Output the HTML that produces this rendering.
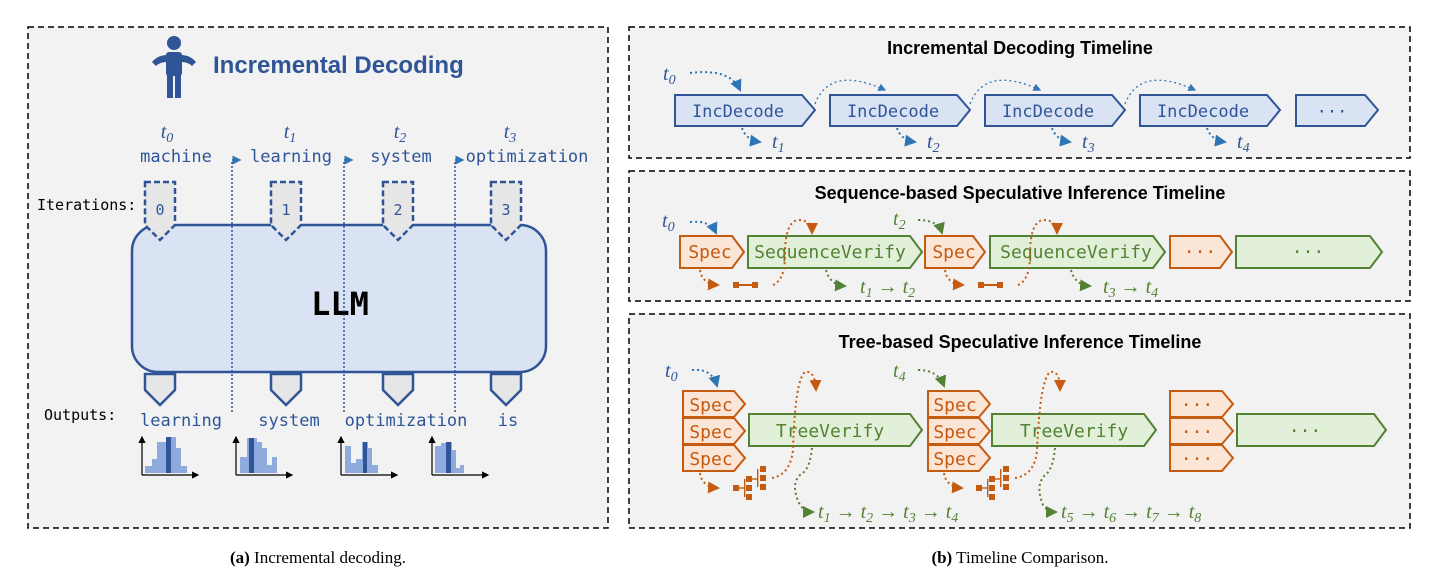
<!DOCTYPE html>
<html><head><meta charset="utf-8"><style>
body{margin:0;background:#fff;width:1440px;height:581px;overflow:hidden}
text{font-family:"DejaVu Sans Mono","Liberation Mono",monospace}
text.t{font-family:"Liberation Sans",sans-serif;font-weight:bold;font-size:18px;fill:#000}
text.it{font-family:"Liberation Serif",serif;font-style:italic;font-size:20px}
text.cap{font-family:"Liberation Serif",serif;font-size:17px;fill:#000}
</style></head><body>
<svg width="1440" height="581" viewBox="0 0 1440 581" xmlns="http://www.w3.org/2000/svg">
<defs>
<marker id="ab" markerWidth="6" markerHeight="6" refX="5" refY="3" orient="auto"><path d="M0,0L6,3L0,6z" fill="#2e75b6"/></marker>
<marker id="ao" markerWidth="6" markerHeight="6" refX="5" refY="3" orient="auto"><path d="M0,0L6,3L0,6z" fill="#c55a11"/></marker>
<marker id="ag" markerWidth="6" markerHeight="6" refX="5" refY="3" orient="auto"><path d="M0,0L6,3L0,6z" fill="#548235"/></marker>
<marker id="ak" markerWidth="6" markerHeight="6" refX="5" refY="3" orient="auto"><path d="M0,0L6,3L0,6z" fill="#000"/></marker>
<g id="tree" fill="#c55a11">
<rect x="0" y="-3" width="6" height="6"/><rect x="6" y="-0.7" width="6" height="1.4"/><rect x="11" y="-9" width="1.4" height="18"/>
<rect x="13" y="-12" width="6" height="6"/><rect x="13" y="-3" width="6" height="6"/><rect x="13" y="6" width="6" height="6"/>
<rect x="19" y="-9.7" width="6" height="1.4"/><rect x="24" y="-19" width="1.4" height="18"/>
<rect x="27" y="-22" width="6" height="6"/><rect x="27" y="-13" width="6" height="6"/><rect x="27" y="-4" width="6" height="6"/>
</g>
</defs>
<g fill="#f2f2f2" stroke="#000" stroke-width="1.5" stroke-dasharray="6,4">
<rect x="28" y="27" width="580" height="501"/>
<rect x="629" y="27" width="781" height="131"/>
<rect x="629" y="171" width="781" height="130"/>
<rect x="629" y="314" width="781" height="214"/>
</g>
<text x="318" y="563" class="cap" text-anchor="middle"><tspan font-weight="bold">(a)</tspan> Incremental decoding.</text>
<text x="1020" y="563" class="cap" text-anchor="middle"><tspan font-weight="bold">(b)</tspan> Timeline Comparison.</text>
<!-- left panel -->
<g fill="#2f5597"><circle cx="174" cy="43" r="7"/><rect x="166" y="52" width="16" height="24" rx="3"/><rect x="167" y="72" width="6" height="26"/><rect x="175" y="72" width="6" height="26"/><path d="M152,62 Q158,55 167,55 L167,62 Q160,62 156,66z M196,62 Q190,55 181,55 L181,62 Q188,62 192,66z"/></g>
<text x="213" y="73" class="t" style="fill:#2f5597;font-size:24px">Incremental Decoding</text>
<g fill="#2f5597" text-anchor="middle">
<text x="167" y="138" class="it">t<tspan font-size="14" dy="4">0</tspan></text>
<text x="290" y="138" class="it">t<tspan font-size="14" dy="4">1</tspan></text>
<text x="400" y="138" class="it">t<tspan font-size="14" dy="4">2</tspan></text>
<text x="510" y="138" class="it">t<tspan font-size="14" dy="4">3</tspan></text>
<g font-size="17"><text x="176" y="162">machine</text><text x="291" y="162">learning</text><text x="401" y="162">system</text><text x="527" y="162">optimization</text>
<text x="181" y="426">learning</text><text x="289" y="426">system</text><text x="406" y="426">optimization</text><text x="508" y="426">is</text></g>
</g>
<text x="37" y="210" font-size="15" fill="#000">Iterations:</text>
<text x="44" y="420" font-size="15" fill="#000">Outputs:</text>
<rect x="132" y="225" width="414" height="147" rx="26" fill="#dae3f3" stroke="#2f5597" stroke-width="2.5"/>
<text x="340" y="315" font-size="32" font-weight="bold" text-anchor="middle" fill="#000">LLM</text>
<g fill="none" stroke="#2f5597" stroke-width="1.5" stroke-dasharray="2,2">
<path d="M232,412 V160 h8" marker-end="url(#ab)"/><path d="M344,412 V160 h8" marker-end="url(#ab)"/><path d="M455,412 V160 h8" marker-end="url(#ab)"/>
</g>
<g fill="#e6e6e6" stroke="#2f5597" stroke-width="2.5">
<path d="M145,182 H175 V225 L160,240 L145,225 Z" stroke-dasharray="6,3"/>
<path d="M271,182 H301 V225 L286,240 L271,225 Z" stroke-dasharray="6,3"/>
<path d="M383,182 H413 V225 L398,240 L383,225 Z" stroke-dasharray="6,3"/>
<path d="M491,182 H521 V225 L506,240 L491,225 Z" stroke-dasharray="6,3"/>
<path d="M145,374 H175 V390 L160,405 L145,390 Z"/>
<path d="M271,374 H301 V390 L286,405 L271,390 Z"/>
<path d="M383,374 H413 V390 L398,405 L383,390 Z"/>
<path d="M491,374 H521 V390 L506,405 L491,390 Z"/>
</g>
<g fill="#2f5597" font-size="15" text-anchor="middle"><text x="160" y="215">0</text><text x="286" y="215">1</text><text x="398" y="215">2</text><text x="506" y="215">3</text></g>
<!-- histograms -->
<g fill="#8faadc">
<path d="M145,473V466H152V459H157V442H170V437H176V448H181V466H187V473Z"/>
<path d="M240,473V457H247V438H257V442H262V448H267V465H272V457H277V473Z"/>
<path d="M345,473V446H351V463H356V459H362V442H368V448H372V465H378V473Z"/>
<path d="M435,473V446H441V443H446V442H452V450H456V468H460V465H464V473Z"/>
</g>
<g fill="#2f5597"><rect x="166" y="437" width="5" height="36"/><rect x="249" y="438" width="5" height="35"/><rect x="363" y="442" width="4" height="31"/><rect x="446" y="442" width="5" height="31"/></g>
<g stroke="#000" stroke-width="1.2" fill="none">
<path d="M142,475V437" marker-end="url(#ak)"/><path d="M142,475H198" marker-end="url(#ak)"/>
<path d="M236,475V437" marker-end="url(#ak)"/><path d="M236,475H292" marker-end="url(#ak)"/>
<path d="M341,475V437" marker-end="url(#ak)"/><path d="M341,475H397" marker-end="url(#ak)"/>
<path d="M432,475V437" marker-end="url(#ak)"/><path d="M432,475H488" marker-end="url(#ak)"/>
</g>
<!-- timeline 1 -->
<text x="1020" y="54" class="t" text-anchor="middle">Incremental Decoding Timeline</text>
<g fill="#dae3f3" stroke="#2f5597" stroke-width="2">
<path d="M675,95H802L815,110L802,126H675Z"/><path d="M830,95H957L970,110L957,126H830Z"/><path d="M985,95H1112L1125,110L1112,126H985Z"/><path d="M1140,95H1267L1280,110L1267,126H1140Z"/><path d="M1296,95H1365L1378,110L1365,126H1296Z"/>
</g>
<g fill="#2f5597" font-size="17" text-anchor="middle"><text x="738" y="117">IncDecode</text><text x="893" y="117">IncDecode</text><text x="1048" y="117">IncDecode</text><text x="1203" y="117">IncDecode</text><text x="1332" y="117">···</text></g>
<g fill="none" stroke="#2e75b6" stroke-width="2" stroke-dasharray="2,3">
<path d="M690,73 Q730,68 740,90" marker-end="url(#ab)"/>
<path d="M742,128 Q746,140 760,142" marker-end="url(#ab)"/><path d="M897,128 Q901,140 915,142" marker-end="url(#ab)"/><path d="M1052,128 Q1056,140 1070,142" marker-end="url(#ab)"/><path d="M1207,128 Q1211,140 1225,142" marker-end="url(#ab)"/>
<path d="M815,104 Q830,65 885,90" marker-end="url(#ab)" stroke-width="1.3"/><path d="M970,104 Q985,65 1040,90" marker-end="url(#ab)" stroke-width="1.3"/><path d="M1125,104 Q1140,65 1195,90" marker-end="url(#ab)" stroke-width="1.3"/>
</g>
<g fill="#2f5597">
<text x="663" y="80" class="it">t<tspan font-size="14" dy="4">0</tspan></text>
<text x="772" y="148" class="it">t<tspan font-size="14" dy="4">1</tspan></text><text x="927" y="148" class="it">t<tspan font-size="14" dy="4">2</tspan></text><text x="1082" y="148" class="it">t<tspan font-size="14" dy="4">3</tspan></text><text x="1237" y="148" class="it">t<tspan font-size="14" dy="4">4</tspan></text>
</g>
<!-- timeline 2 -->
<text x="1020" y="199" class="t" text-anchor="middle">Sequence-based Speculative Inference Timeline</text>
<g fill="#fbe5d6" stroke="#c55a11" stroke-width="2"><path d="M680,236H732L744,252L732,268H680Z"/><path d="M925,236H973L985,252L973,268H925Z"/><path d="M1170,236H1220L1232,252L1220,268H1170Z"/></g>
<g fill="#e2f0d9" stroke="#548235" stroke-width="2"><path d="M748,236H910L922,252L910,268H748Z"/><path d="M990,236H1153L1165,252L1153,268H990Z"/><path d="M1236,236H1370L1382,252L1370,268H1236Z"/></g>
<g font-size="18" text-anchor="middle"><g fill="#c55a11"><text x="710" y="258">Spec</text><text x="954" y="258">Spec</text><text x="1200" y="258">···</text></g><g fill="#548235"><text x="830" y="258">SequenceVerify</text><text x="1076" y="258">SequenceVerify</text><text x="1308" y="258">···</text></g></g>
<g fill="none" stroke-width="2" stroke-dasharray="2,3">
<path d="M690,222 Q710,220 716,233" stroke="#2e75b6" marker-end="url(#ab)"/>
<path d="M918,220 Q938,220 942,233" stroke="#548235" marker-end="url(#ag)"/>
<g stroke="#c55a11">
<path d="M700,270 Q702,284 718,285" marker-end="url(#ao)"/><path d="M773,285 Q785,280 785,255 Q785,222 798,220 Q812,220 812,233" marker-end="url(#ao)"/>
<path d="M945,270 Q947,284 963,285" marker-end="url(#ao)"/><path d="M1018,285 Q1030,280 1030,255 Q1030,222 1043,220 Q1057,220 1057,233" marker-end="url(#ao)"/></g>
<g stroke="#548235"><path d="M826,270 Q830,285 845,286" marker-end="url(#ag)"/><path d="M1071,270 Q1075,285 1090,286" marker-end="url(#ag)"/></g>
</g>
<g fill="#c55a11"><rect x="733" y="282" width="6" height="6"/><rect x="752" y="282" width="6" height="6"/><rect x="739" y="284" width="13" height="2"/><rect x="978" y="282" width="6" height="6"/><rect x="997" y="282" width="6" height="6"/><rect x="984" y="284" width="13" height="2"/></g>
<text x="662" y="227" class="it" fill="#2f5597">t<tspan font-size="14" dy="4">0</tspan></text>
<text x="893" y="225" class="it" fill="#548235">t<tspan font-size="14" dy="4">2</tspan></text>
<text x="860" y="293" class="it" fill="#548235">t<tspan font-size="14" dy="4">1</tspan><tspan dy="-4"> → t</tspan><tspan font-size="14" dy="4">2</tspan></text>
<text x="1103" y="293" class="it" fill="#548235">t<tspan font-size="14" dy="4">3</tspan><tspan dy="-4"> → t</tspan><tspan font-size="14" dy="4">4</tspan></text>
<!-- timeline 3 -->
<text x="1020" y="348" class="t" text-anchor="middle">Tree-based Speculative Inference Timeline</text>
<g fill="#fbe5d6" stroke="#c55a11" stroke-width="2">
<path d="M683,391H734L745,404L734,417H683Z"/><path d="M683,418H734L745,431L734,444H683Z"/><path d="M683,445H734L745,458L734,471H683Z"/>
<path d="M928,391H979L990,404L979,417H928Z"/><path d="M928,418H979L990,431L979,444H928Z"/><path d="M928,445H979L990,458L979,471H928Z"/>
<path d="M1170,391H1222L1233,404L1222,417H1170Z"/><path d="M1170,418H1222L1233,431L1222,444H1170Z"/><path d="M1170,445H1222L1233,458L1222,471H1170Z"/>
</g>
<g fill="#e2f0d9" stroke="#548235" stroke-width="2"><path d="M749,414H910L922,430L910,446H749Z"/><path d="M992,414H1144L1156,430L1144,446H992Z"/><path d="M1237,414H1374L1386,430L1374,446H1237Z"/></g>
<g font-size="18" text-anchor="middle"><g fill="#c55a11"><text x="711" y="411">Spec</text><text x="711" y="438">Spec</text><text x="711" y="465">Spec</text><text x="955" y="411">Spec</text><text x="955" y="438">Spec</text><text x="955" y="465">Spec</text><text x="1197" y="411">···</text><text x="1197" y="438">···</text><text x="1197" y="465">···</text></g><g fill="#548235"><text x="830" y="437">TreeVerify</text><text x="1074" y="437">TreeVerify</text><text x="1305" y="437">···</text></g></g>
<use href="#tree" x="733" y="488"/><use href="#tree" x="976" y="488"/>
<g fill="none" stroke-width="2" stroke-dasharray="2,3">
<path d="M692,370 Q712,368 717,386" stroke="#2e75b6" marker-end="url(#ab)"/>
<path d="M918,370 Q938,370 944,386" stroke="#548235" marker-end="url(#ag)"/>
<g stroke="#c55a11">
<path d="M700,473 Q702,487 718,488" marker-end="url(#ao)"/><path d="M772,478 Q790,475 793,450 Q795,380 805,372 Q815,370 816,390" marker-end="url(#ao)"/>
<path d="M944,473 Q946,487 962,488" marker-end="url(#ao)"/><path d="M1015,478 Q1035,475 1037,450 Q1040,380 1050,372 Q1060,370 1060,390" marker-end="url(#ao)"/></g>
<g stroke="#548235"><path d="M812,448 Q810,470 800,475 Q790,485 800,505 Q805,512 813,512" marker-end="url(#ag)"/><path d="M1055,448 Q1053,470 1045,475 Q1035,485 1043,505 Q1048,512 1056,512" marker-end="url(#ag)"/></g>
</g>
<text x="665" y="377" class="it" fill="#2f5597">t<tspan font-size="14" dy="4">0</tspan></text>
<text x="893" y="377" class="it" fill="#548235">t<tspan font-size="14" dy="4">4</tspan></text>
<text x="818" y="518" class="it" fill="#548235">t<tspan font-size="14" dy="4">1</tspan><tspan dy="-4"> → t</tspan><tspan font-size="14" dy="4">2</tspan><tspan dy="-4"> → t</tspan><tspan font-size="14" dy="4">3</tspan><tspan dy="-4"> → t</tspan><tspan font-size="14" dy="4">4</tspan></text>
<text x="1061" y="518" class="it" fill="#548235">t<tspan font-size="14" dy="4">5</tspan><tspan dy="-4"> → t</tspan><tspan font-size="14" dy="4">6</tspan><tspan dy="-4"> → t</tspan><tspan font-size="14" dy="4">7</tspan><tspan dy="-4"> → t</tspan><tspan font-size="14" dy="4">8</tspan></text>
</svg>
</body></html>
